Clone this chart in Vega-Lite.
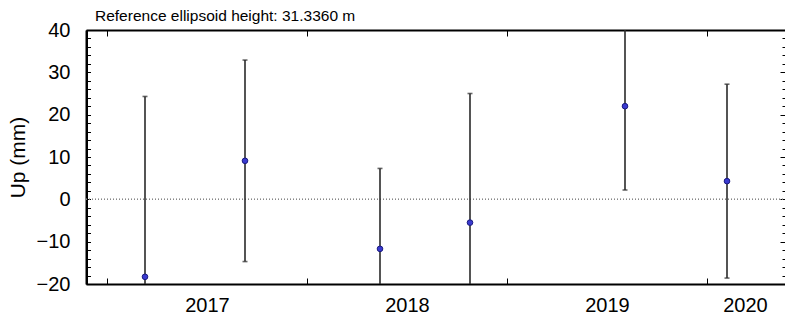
{
  "$schema": "https://vega.github.io/schema/vega-lite/v6.json",
  "autosize": "none",
  "width": 700,
  "height": 254,
  "padding": {"left": 86, "top": 30, "right": 0, "bottom": 37},
  "background": "white",
  "config": {
    "view": {"stroke": null},
    "font": "Liberation Sans",
    "axis": {"grid": false, "domain": false, "labelFont": "Liberation Sans", "titleFont": "Liberation Sans", "labelColor": "black", "titleColor": "black", "tickColor": "black", "domainColor": "black", "domainWidth": 2}
  },
  "title": {
    "text": "Reference ellipsoid height: 31.3360 m",
    "anchor": "start",
    "frame": "group",
    "fontSize": 15.5,
    "fontWeight": "normal",
    "font": "Liberation Sans",
    "color": "black",
    "baseline": "alphabetic",
    "offset": 0,
    "dx": 9,
    "dy": 16
  },
  "data": {
    "values": [
      {"t": 2017.19, "up": -18.3, "lo": -60.9, "hi": 24.3},
      {"t": 2017.69, "up": 9.1, "lo": -14.7, "hi": 32.9},
      {"t": 2018.365, "up": -11.7, "lo": -30.7, "hi": 7.3},
      {"t": 2018.815, "up": -5.5, "lo": -36.0, "hi": 25.0},
      {"t": 2019.59, "up": 22.0, "lo": 2.2, "hi": 41.8},
      {"t": 2020.10, "up": 4.3, "lo": -18.6, "hi": 27.2}
    ]
  },
  "resolve": {"axis": {"x": "independent", "y": "independent"}},
  "layer": [
    {
      "mark": {"type": "rule", "color": "#888888", "strokeWidth": 0.8, "strokeDash": [1, 2]},
      "encoding": {
        "y": {
          "datum": 0,
          "type": "quantitative",
          "scale": {"domain": [-20, 40], "nice": false, "zero": false},
          "axis": {
            "orient": "left",
            "values": [-20, -10, 0, 10, 20, 30, 40],
            "ticks": false,
            "domain": true,
            "domainColor": "black",
            "domainWidth": 2,
            "labelFontSize": 20,
            "labelPadding": 16,
            "title": "Up (mm)",
            "titleFontSize": 21,
            "titleFontWeight": "normal",
            "titlePadding": 8
          }
        }
      }
    },
    {
      "mark": {"type": "rule", "color": "#2a2a2a", "strokeWidth": 1.6, "clip": true},
      "encoding": {
        "x": {
          "field": "t",
          "type": "quantitative",
          "scale": {"domain": [2016.895, 2020.395], "nice": false, "zero": false},
          "axis": {"orient": "bottom", "domain": true, "domainColor": "black", "domainWidth": 2, "values": [2017, 2018, 2019, 2020], "labels": false, "tickSize": -6, "tickWidth": 1, "title": null}
        },
        "y": {
          "field": "lo",
          "type": "quantitative",
          "axis": {"orient": "left", "offset": -0.5, "domain": true, "domainColor": "black", "domainWidth": 2, "values": [-20, -18, -16, -14, -12, -10, -8, -6, -4, -2, 0, 2, 4, 6, 8, 10, 12, 14, 16, 18, 20, 22, 24, 26, 28, 30, 32, 34, 36, 38, 40], "labels": false, "tickSize": -4, "tickWidth": 1, "title": null}
        },
        "y2": {"field": "hi"}
      }
    },
    {
      "mark": {"type": "tick", "orient": "horizontal", "color": "#2a2a2a", "size": 5, "thickness": 1.6, "clip": true},
      "encoding": {
        "x": {
          "field": "t",
          "type": "quantitative",
          "axis": {"orient": "top", "domain": true, "domainColor": "black", "domainWidth": 2, "values": [2017, 2018, 2019, 2020], "labels": false, "tickSize": -6, "tickWidth": 1, "title": null}
        },
        "y": {
          "field": "hi",
          "type": "quantitative",
          "axis": {"orient": "right", "domain": true, "domainColor": "black", "domainWidth": 2, "values": [-20, -10, 0, 10, 20, 30, 40], "labels": false, "tickSize": -6, "tickWidth": 1, "title": null}
        }
      }
    },
    {
      "mark": {"type": "tick", "orient": "horizontal", "color": "#2a2a2a", "size": 5, "thickness": 1.6, "clip": true},
      "encoding": {
        "x": {
          "field": "t",
          "type": "quantitative",
          "axis": {"orient": "bottom", "values": [2017.5, 2018.5, 2019.5, 2020.19], "labelExpr": "floor(datum.value)", "ticks": false, "labelFontSize": 20, "labelPadding": 11, "labelOverlap": false, "labelFlush": false, "title": null}
        },
        "y": {
          "field": "lo",
          "type": "quantitative",
          "axis": {"orient": "right", "values": [-20, -18, -16, -14, -12, -10, -8, -6, -4, -2, 0, 2, 4, 6, 8, 10, 12, 14, 16, 18, 20, 22, 24, 26, 28, 30, 32, 34, 36, 38, 40], "labels": false, "tickSize": -4, "tickWidth": 1, "title": null}
        }
      }
    },
    {
      "mark": {"type": "point", "filled": true, "fill": "#3a3ad0", "stroke": "#1a1a80", "strokeWidth": 1, "size": 32, "opacity": 1, "clip": true},
      "encoding": {
        "x": {"field": "t", "type": "quantitative", "axis": null},
        "y": {"field": "up", "type": "quantitative", "axis": null}
      }
    }
  ]
}
